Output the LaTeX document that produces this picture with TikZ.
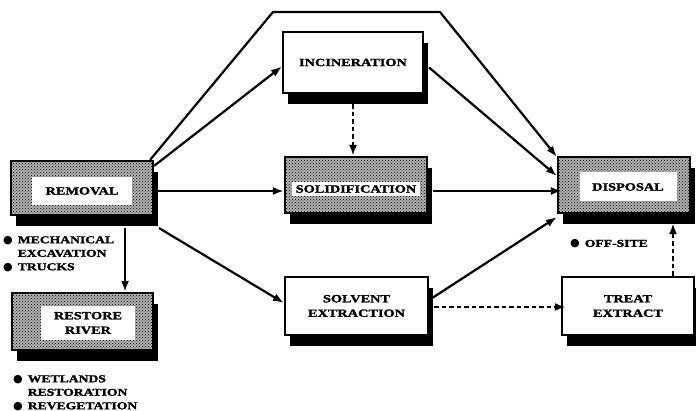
\documentclass[tikz,border=0pt]{standalone}
\usepackage{fontspec}
\setmainfont{Liberation Serif}
\newfontfamily\boxfont[FakeStretch=1.3,FakeBold=2]{Liberation Serif}
\newfontfamily\symfont{DejaVu Sans}
\usetikzlibrary{arrows.meta,shadows,patterns}
\newcommand{\bul}{{\symfont\fontsize{11}{10}\selectfont ●}\hspace{5pt}}
\begin{document}
\begin{tikzpicture}[x=1pt,y=-1pt,
  boxtext/.style={font=\boxfont\bfseries\fontsize{11}{14.5}\selectfont, align=center},
  box/.style={draw, line width=2.2pt, rectangle, inner sep=0pt, fill=white,
    drop shadow={shadow xshift=5pt, shadow yshift=-11pt, fill=black, opacity=1},
    boxtext},
  shadedbox/.style={box, fill=black!30, postaction={pattern=crosshatch dots, pattern color=black}},
  window/.style={fill=white, inner sep=0pt, boxtext},
  flow/.style={line width=2.2pt, -{Latex[length=11pt,width=8pt]}},
  dflow/.style={flow, dash pattern=on 4.5pt off 3pt},
  note/.style={anchor=north west, inner sep=0pt, align=left,
    font=\boxfont\bfseries\fontsize{10.5}{13.5}\selectfont},
]
\useasboundingbox (0,0) rectangle (696,411);

% process boxes
\node[shadedbox, minimum width=142pt, minimum height=54pt] (removal) at (82,188) {};
\node[window, minimum width=100pt, minimum height=28pt] (removal-w) at (82,191) {REMOVAL};

\node[shadedbox, minimum width=141pt, minimum height=57pt] (restore) at (82.5,321.5) {};
\node[window, minimum width=94pt, minimum height=34pt] (restore-w) at (88,323) {RESTORE\\RIVER};

\node[box, minimum width=140pt, minimum height=61pt] (incineration) at (353,62.5) {INCINERATION};

\node[shadedbox, minimum width=142pt, minimum height=56pt] (solidification) at (356,185) {};
\node[window, minimum width=128pt, minimum height=14pt] (solid-w) at (356,189) {SOLIDIFICATION};

\node[box, minimum width=143pt, minimum height=58pt] (solvent) at (356.5,306) {SOLVENT\\EXTRACTION};

\node[shadedbox, minimum width=132pt, minimum height=56pt] (disposal) at (624,185) {};
\node[window, minimum width=97pt, minimum height=29pt] (disposal-w) at (628,187) {DISPOSAL};

\node[box, minimum width=132pt, minimum height=58pt] (treat) at (628,306) {TREAT\\EXTRACT};

% bend points and arrow ends
\coordinate (bendL) at (273,12);
\coordinate (bendR) at (440,12);
\path (removal.south) ++(43,12) coordinate (rivertop-start);
\path (removal.south east) ++(5,12) coordinate (shadowcorner);
\path (disposal.south) ++(49,9) coordinate (dispin);

% solid flows
\draw[flow, line join=round] ([xshift=-4pt]removal.north east) -- (bendL) -- (bendR) -- ([yshift=-1pt]disposal.north west);
\draw[flow] ([yshift=-6pt]removal.north east) -- ([yshift=-4pt]incineration.west);
\draw[flow] ([yshift=-3pt]removal.east) -- ([yshift=-3pt]removal.east -| solidification.west);
\draw[flow] (shadowcorner) -- ([yshift=3pt]solvent.west);
\draw[flow] (rivertop-start) -- (rivertop-start |- restore.north);
\draw[flow] ([xshift=5pt,yshift=-5pt]incineration.east) -- ([yshift=9pt]disposal.west);
\draw[flow] ([xshift=5pt,yshift=-6pt]solidification.east) -- ([xshift=5pt,yshift=-6pt]solidification.east -| disposal.west);
\draw[flow] ([yshift=6pt]solvent.east) -- ([yshift=-3pt]disposal.south west);

% dashed flows
\draw[dflow] ([yshift=-10pt]incineration.south) -- (incineration.south |- solidification.north);
\draw[dflow] ([xshift=5pt,yshift=-1pt]solvent.east) -- ([xshift=5pt,yshift=-1pt]solvent.east -| treat.west);
\draw[dflow] ([xshift=45pt]treat.north) -- (dispin);

% notes
\node[note] (removal-notes) at (3,236) {\bul MECHANICAL\\\hphantom{\bul}EXCAVATION\\\bul TRUCKS};
\node[note] (restore-notes) at (13,375) {\bul WETLANDS\\\hphantom{\bul}RESTORATION\\\bul REVEGETATION};
\node[note, anchor=west] (disposal-notes) at (570,244) {\bul OFF-SITE};
\end{tikzpicture}
\end{document}
